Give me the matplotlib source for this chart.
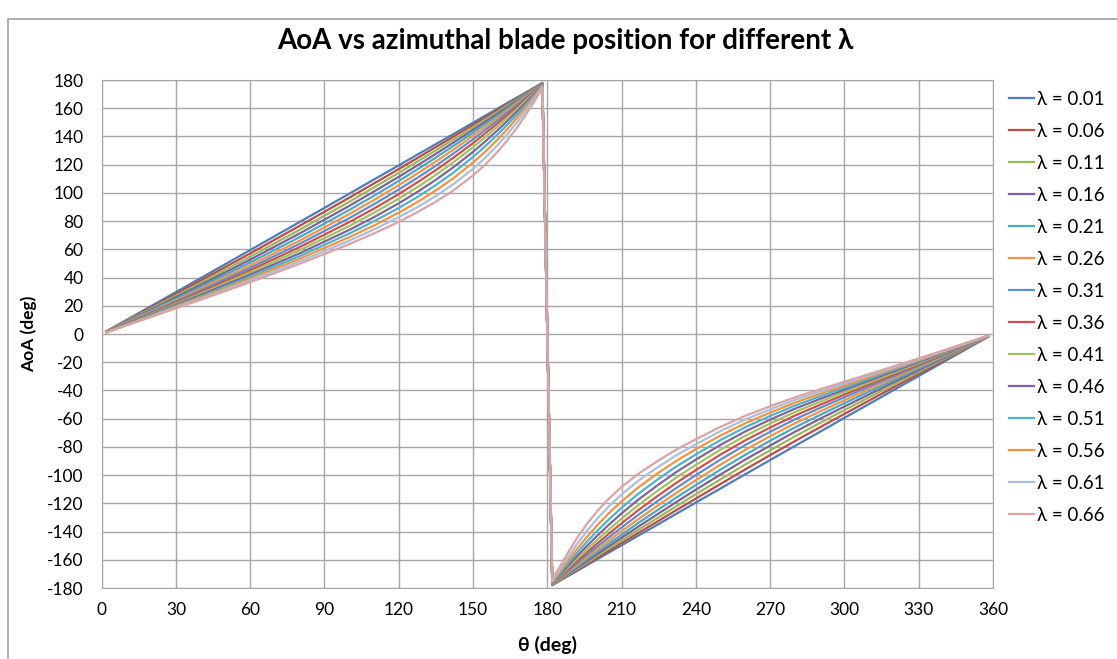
import matplotlib
matplotlib.use("Agg")
import matplotlib.pyplot as plt
from matplotlib.patches import Rectangle

# azimuthal blade position (deg)
theta = [2, 20, 40, 60, 80, 100, 110, 120, 128, 135, 142, 150, 155, 160, 164, 168, 174, 178,
         182, 186, 189, 192, 196, 200, 205, 210, 217, 225, 232, 240, 250, 260, 270, 280, 290,
         300, 320, 340, 358]

# AoA (deg) for each tip speed ratio
aoa_001 = [2.0, 19.8, 39.6, 59.5, 79.4, 99.4, 109.5, 119.5, 127.6, 134.6, 141.6, 149.7, 154.8,
           159.8, 163.9, 167.9, 173.9, 178.0, -178.0, -173.9, -170.9, -167.9, -163.8, -159.8,
           -154.7, -149.7, -142.6, -134.6, -127.5, -119.4, -109.4, -99.3, -89.3, -79.3, -69.4,
           -59.4, -39.6, -19.8, -2.0]
aoa_006 = [1.9, 18.9, 37.9, 57.1, 76.7, 96.6, 106.7, 116.9, 125.2, 132.5, 139.8, 148.2, 153.5,
           158.8, 163.0, 167.2, 173.6, 177.9, -177.9, -173.6, -170.4, -167.2, -163.0, -158.7,
           -153.4, -148.1, -140.7, -132.3, -124.9, -116.6, -106.2, -95.9, -85.8, -75.9, -66.2,
           -56.6, -37.6, -18.8, -1.9]
aoa_011 = [1.8, 18.1, 36.3, 54.8, 73.9, 93.7, 103.9, 114.2, 122.7, 130.2, 137.8, 146.5, 152.1,
           157.6, 162.1, 166.5, 173.3, 177.8, -177.8, -173.3, -169.9, -166.5, -162.0, -157.5,
           -151.9, -146.3, -138.5, -129.8, -122.1, -113.5, -102.9, -92.4, -82.4, -72.5, -63.1,
           -53.9, -35.8, -17.9, -1.8]
aoa_016 = [1.7, 17.3, 34.8, 52.7, 71.3, 90.8, 101.0, 111.4, 120.0, 127.7, 135.6, 144.7, 150.5,
           156.3, 161.0, 165.7, 172.9, 177.6, -177.6, -172.8, -169.2, -165.6, -160.9, -156.1,
           -150.2, -144.3, -136.2, -127.1, -119.2, -110.3, -99.5, -88.9, -79.0, -69.3, -60.2,
           -51.4, -34.1, -17.0, -1.7]
aoa_021 = [1.7, 16.6, 33.4, 50.7, 68.7, 87.9, 98.0, 108.5, 117.2, 125.1, 133.2, 142.7, 148.8,
           154.9, 159.9, 164.9, 172.4, 177.5, -177.5, -172.4, -168.5, -164.7, -159.6, -154.6,
           -148.3, -142.2, -133.6, -124.2, -116.0, -107.0, -96.0, -85.5, -75.6, -66.2, -57.5,
           -49.0, -32.5, -16.3, -1.6]
aoa_026 = [1.6, 15.9, 32.1, 48.7, 66.2, 85.0, 95.0, 105.5, 114.3, 122.3, 130.6, 140.5, 146.8,
           153.3, 158.6, 163.9, 171.9, 177.3, -177.3, -171.9, -167.7, -163.6, -158.2, -152.8,
           -146.2, -139.7, -130.9, -121.1, -112.7, -103.6, -92.5, -82.0, -72.4, -63.3, -55.0,
           -46.9, -31.1, -15.6, -1.6]
aoa_031 = [1.5, 15.3, 30.9, 46.9, 63.9, 82.1, 92.0, 102.4, 111.2, 119.3, 127.8, 138.0, 144.7,
           151.5, 157.1, 162.7, 171.3, 177.1, -177.1, -171.2, -166.8, -162.4, -156.6, -150.9,
           -143.9, -137.1, -127.8, -117.8, -109.2, -100.0, -88.9, -78.6, -69.3, -60.5, -52.5,
           -44.8, -29.8, -15.0, -1.5]
aoa_036 = [1.5, 14.7, 29.7, 45.2, 61.6, 79.3, 88.9, 99.2, 108.0, 116.2, 124.8, 135.3, 142.3,
           149.5, 155.4, 161.4, 170.7, 176.9, -176.9, -170.5, -165.8, -161.0, -154.8, -148.7,
           -141.3, -134.1, -124.5, -114.2, -105.6, -96.4, -85.4, -75.3, -66.3, -57.8, -50.3,
           -42.9, -28.6, -14.4, -1.4]
aoa_041 = [1.4, 14.2, 28.7, 43.6, 59.4, 76.5, 85.9, 95.9, 104.6, 112.8, 121.6, 132.4, 139.6,
           147.2, 153.4, 159.9, 169.9, 176.6, -176.6, -169.7, -164.5, -159.4, -152.7, -146.1,
           -138.3, -130.8, -120.9, -110.5, -101.8, -92.7, -81.9, -72.1, -63.4, -55.3, -48.1,
           -41.1, -27.5, -13.8, -1.4]
aoa_046 = [1.4, 13.7, 27.7, 42.1, 57.2, 73.8, 82.8, 92.6, 101.2, 109.3, 118.1, 129.1, 136.6,
           144.5, 151.2, 158.1, 168.9, 176.3, -176.3, -168.8, -163.1, -157.4, -150.2, -143.2,
           -134.9, -127.1, -117.0, -106.6, -97.9, -89.0, -78.5, -69.0, -60.7, -52.9, -46.1,
           -39.5, -26.4, -13.3, -1.3]
aoa_051 = [1.3, 13.3, 26.7, 40.6, 55.2, 71.2, 79.9, 89.3, 97.6, 105.6, 114.3, 125.5, 133.2,
           141.5, 148.6, 156.1, 167.8, 175.9, -175.9, -167.6, -161.3, -155.1, -147.2, -139.8,
           -131.1, -123.1, -112.8, -102.5, -94.0, -85.3, -75.1, -66.0, -58.1, -50.7, -44.3,
           -37.9, -25.4, -12.8, -1.3]
aoa_056 = [1.3, 12.8, 25.9, 39.3, 53.3, 68.6, 76.9, 86.0, 94.0, 101.8, 110.3, 121.5, 129.3,
           138.0, 145.5, 153.6, 166.5, 175.5, -175.5, -166.1, -159.2, -152.3, -143.8, -135.8,
           -126.7, -118.6, -108.3, -98.2, -90.0, -81.6, -71.9, -63.2, -55.7, -48.6, -42.5,
           -36.5, -24.5, -12.4, -1.2]
aoa_061 = [1.2, 12.4, 25.0, 38.0, 51.5, 66.1, 74.1, 82.8, 90.4, 97.8, 106.1, 117.1, 125.0,
           134.0, 141.9, 150.5, 164.8, 174.9, -174.9, -164.3, -156.5, -148.8, -139.6, -131.2,
           -121.9, -113.7, -103.6, -93.9, -86.0, -78.1, -68.7, -60.5, -53.4, -46.6, -40.9,
           -35.1, -23.7, -12.0, -1.2]
aoa_066 = [1.2, 12.1, 24.3, 36.7, 49.8, 63.7, 71.3, 79.5, 86.8, 93.8, 101.7, 112.4, 120.2,
           129.3, 137.6, 146.8, 162.7, 174.1, -174.1, -162.0, -153.1, -144.5, -134.6, -125.8,
           -116.4, -108.4, -98.7, -89.5, -82.0, -74.6, -65.7, -57.9, -51.2, -44.8, -39.3,
           -33.8, -22.9, -11.6, -1.2]

lam_labels = ["0.01", "0.06", "0.11", "0.16", "0.21", "0.26", "0.31",
              "0.36", "0.41", "0.46", "0.51", "0.56", "0.61", "0.66"]
series = [aoa_001, aoa_006, aoa_011, aoa_016, aoa_021, aoa_026, aoa_031,
          aoa_036, aoa_041, aoa_046, aoa_051, aoa_056, aoa_061, aoa_066]
colors = ["#4A7EBB", "#BE4B48", "#98B954", "#7D60A0", "#46AAC5", "#F69240", "#5B8FD0",
          "#D0504D", "#9FC35A", "#8064A2", "#4BB4CC", "#F8923A", "#A9BFDE", "#DBA3A2"]

fam = ["Lato", "DejaVu Sans"]
plt.rcParams["font.family"] = fam
plt.rcParams["axes.unicode_minus"] = False

fig = plt.figure(figsize=(11.17, 6.59), dpi=100)
ax = fig.add_axes([0.0910, 0.1077, 0.7980, 0.7709])

for vals, lab, col in zip(series, lam_labels, colors):
    ax.plot(theta, vals, color=col, lw=1.6, label="λ = " + lab)

ax.set_xlim(0, 360)
ax.set_ylim(-180, 180)
ax.set_xticks(range(0, 361, 30))
ax.set_yticks(range(-180, 181, 20))
ax.grid(True, color="#A6A6A6", lw=1.0)
ax.set_axisbelow(True)
for sp in ax.spines.values():
    sp.set_color("#A6A6A6")
ax.tick_params(length=0, labelsize=12.5, labelcolor="black")
ax.tick_params(axis="y", pad=13)
ax.tick_params(axis="x", pad=10)

ax.set_xlabel("θ (deg)", fontsize=14, fontweight="bold", labelpad=13)
ax.set_ylabel("AoA (deg)", fontsize=12.5, fontweight="bold", labelpad=7)
fig.text(0.506, 0.938, "AoA vs azimuthal blade position for different λ",
         ha="center", va="center", fontsize=20, fontweight="bold")

ax.legend(loc="upper left", bbox_to_anchor=(0.897, 0.874), bbox_transform=fig.transFigure,
          frameon=False, fontsize=13.5, handlelength=1.3, handletextpad=0.18,
          labelspacing=0.8, borderaxespad=0)

# chart area border
fig.patches.append(Rectangle((8 / 1117, -0.1), 1.2, 1.1 - 19 / 659, transform=fig.transFigure,
                             fill=False, edgecolor="#A0A0A0", lw=1.2))

fig.savefig("out.png", dpi=100)
